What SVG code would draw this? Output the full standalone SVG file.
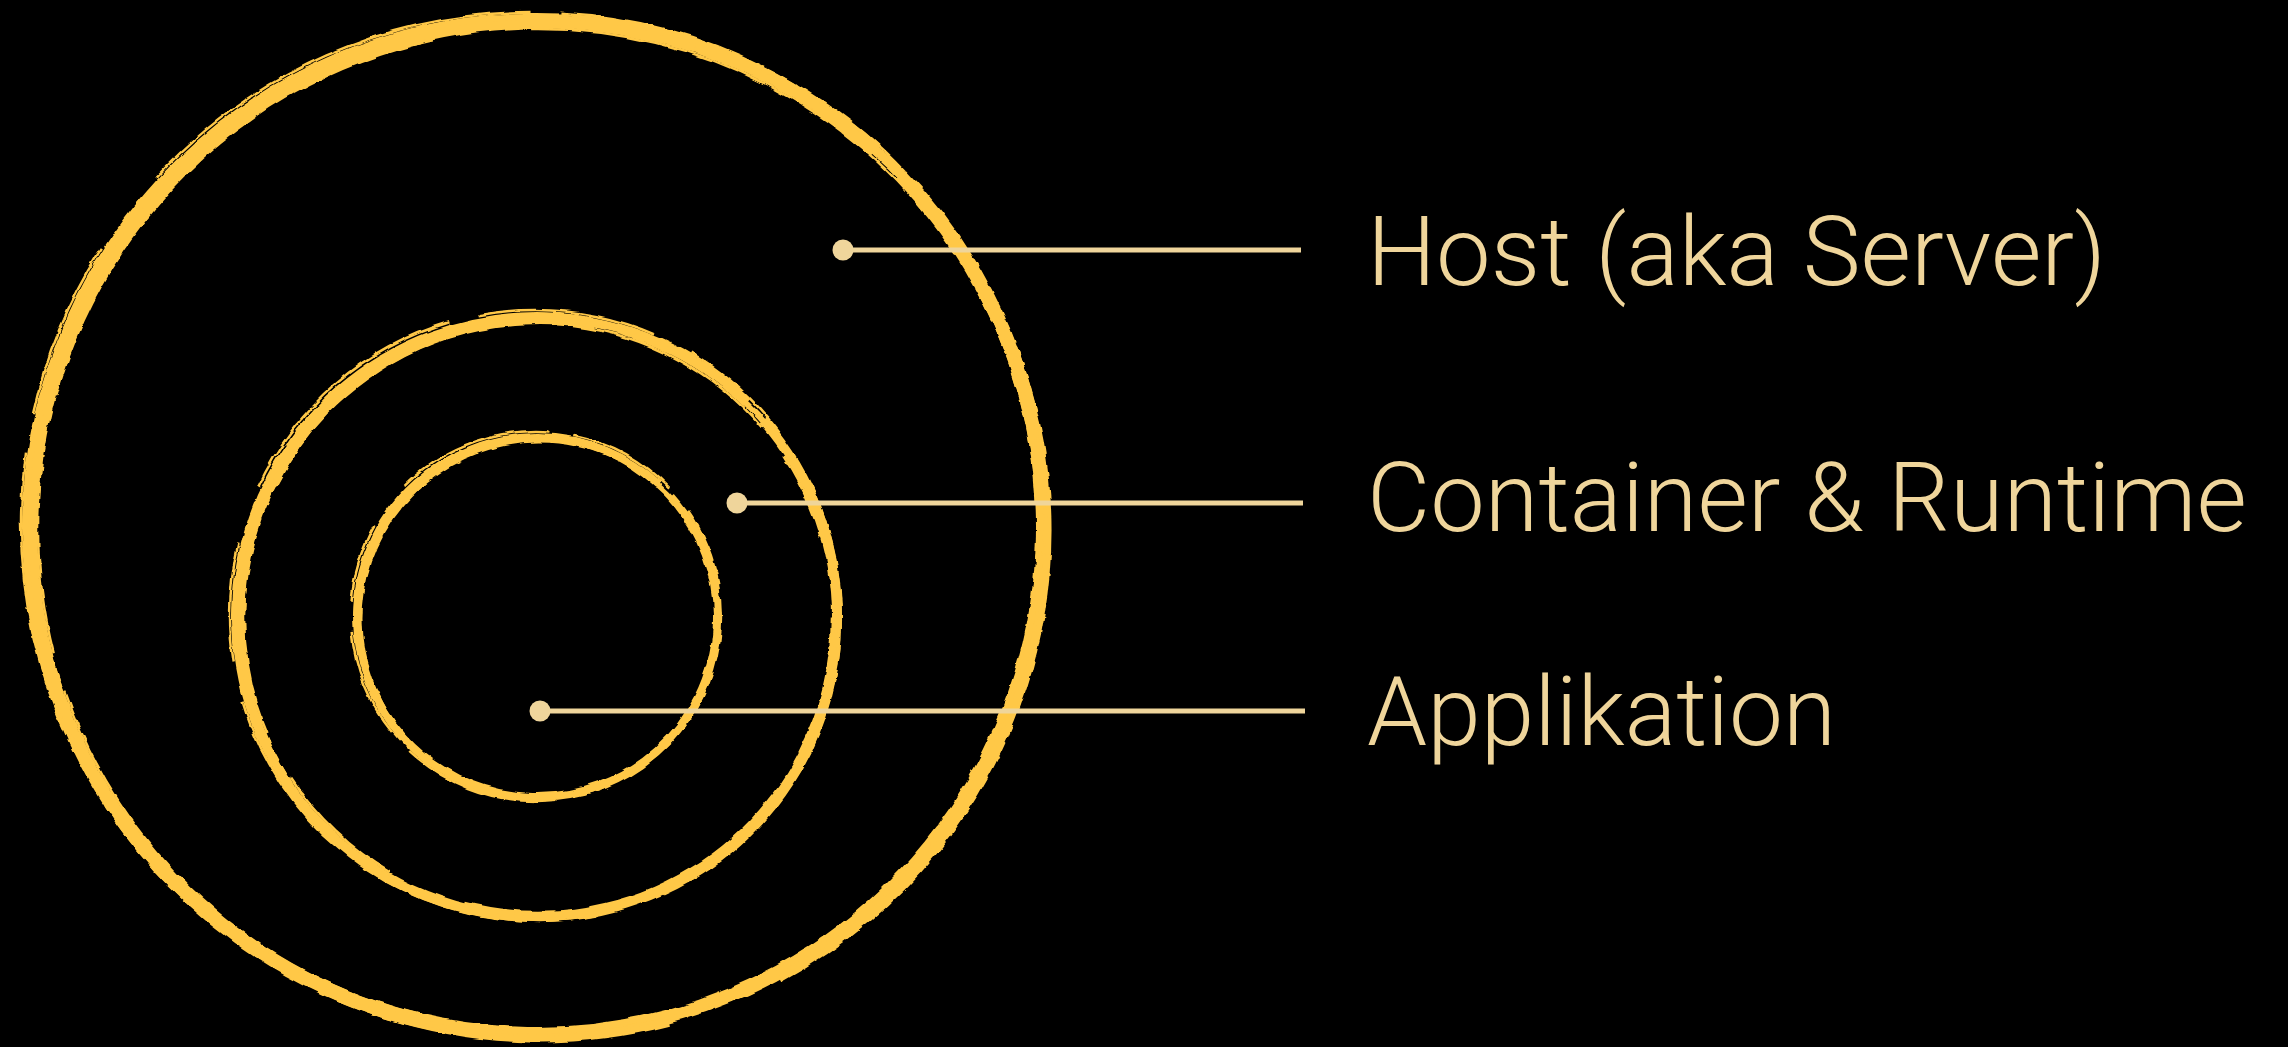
<svg xmlns="http://www.w3.org/2000/svg" width="2288" height="1047" viewBox="0 0 2288 1047">
<defs>
<filter id="brush" x="-5%" y="-5%" width="110%" height="110%">
<feTurbulence type="fractalNoise" baseFrequency="0.04 0.09" numOctaves="2" seed="3" result="n"/>
<feDisplacementMap in="SourceGraphic" in2="n" scale="5" xChannelSelector="R" yChannelSelector="G"/>
</filter>
</defs>
<style>
.ring{fill:none;stroke:#FFC847}
.rough{fill:none;stroke:#FFC847;stroke-width:2.5}
.conn{stroke:#EFD59B;stroke-width:5;fill:none}
.dot{fill:#EFD59B}
.lbl{font-family:Roboto,"Liberation Sans",sans-serif;font-weight:300;font-size:97px;fill:#EFD59B}
</style>
<rect width="2288" height="1047" fill="#000"/>
<g id="host">
<g filter="url(#brush)">
<circle class="ring" cx="536" cy="527" r="507" stroke-width="14" stroke-dasharray="3150 36" transform="rotate(-44 536 527)"/>
<circle class="ring" cx="540" cy="531" r="507" stroke-width="9" stroke-dasharray="900 120 600 80 1200 60" transform="rotate(-40 540 531)"/>
<circle class="rough" cx="533" cy="524" r="512" stroke-dasharray="300 40 180 90 420 30 250 70"/>
<circle class="rough" cx="538" cy="529" r="500" stroke-dasharray="200 60 350 45 150 100 500 40"/>
</g>
<text class="lbl" x="1367" y="285" textLength="739" lengthAdjust="spacingAndGlyphs">Host (aka Server)</text>
</g>
<g id="container">
<g filter="url(#brush)">
<circle class="ring" cx="537" cy="617" r="300" stroke-width="10" stroke-dasharray="1860 25" transform="rotate(-41 537 617)"/>
<circle class="ring" cx="540" cy="620" r="299" stroke-width="6" stroke-dasharray="500 70 300 50 700 40" transform="rotate(-30 540 620)"/>
<circle class="rough" cx="535" cy="615" r="305" stroke-dasharray="180 40 120 60 260 30"/>
<circle class="rough" cx="538" cy="618" r="294" stroke-dasharray="140 50 220 35 90 80"/>
</g>
<text class="lbl" x="1367" y="531" textLength="880" lengthAdjust="spacingAndGlyphs">Container &amp; Runtime</text>
</g>
<g id="app">
<g filter="url(#brush)">
<circle class="ring" cx="537" cy="617" r="180" stroke-width="8" stroke-dasharray="1114 17" transform="rotate(-42 537 617)"/>
<circle class="ring" cx="539" cy="619" r="179" stroke-width="5" stroke-dasharray="300 50 200 40 400 30" transform="rotate(-20 539 619)"/>
<circle class="rough" cx="536" cy="616" r="185" stroke-dasharray="110 30 80 50 160 25"/>
</g>
<text class="lbl" x="1367" y="745" textLength="469" lengthAdjust="spacingAndGlyphs">Applikation</text>
</g>
<g id="connectors">
<line class="conn" x1="843" y1="250" x2="1301" y2="250"/>
<circle class="dot" cx="843" cy="250" r="10.5"/>
<line class="conn" x1="737" y1="503" x2="1303" y2="503"/>
<circle class="dot" cx="737" cy="503" r="10.5"/>
<line class="conn" x1="540" y1="711" x2="1305" y2="711"/>
<circle class="dot" cx="540" cy="711" r="10.5"/>
</g>
</svg>
